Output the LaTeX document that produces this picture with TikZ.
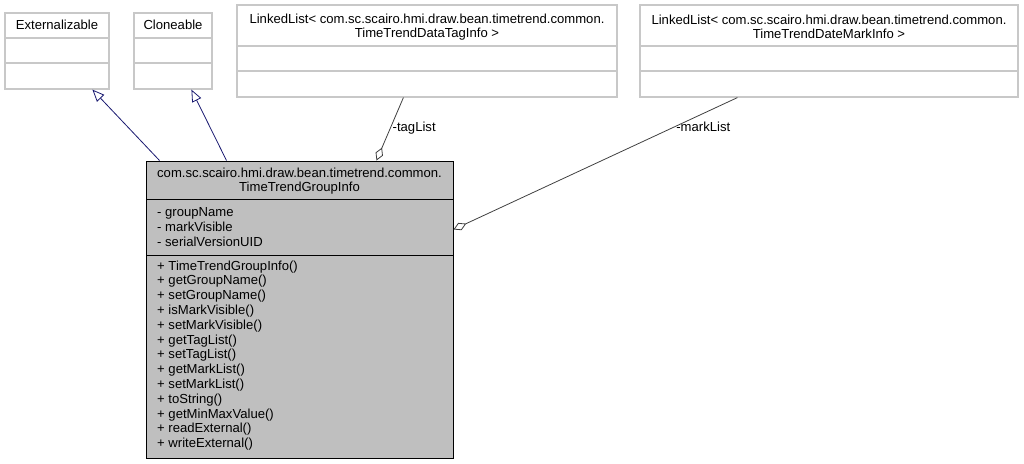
\documentclass[tikz,border=0pt]{standalone}
\usepackage{fontspec}
\setmainfont{Liberation Sans}
\usetikzlibrary{arrows.meta}
\definecolor{navyline}{HTML}{191970}
\definecolor{boxgrey}{HTML}{BFBFBF}
\definecolor{boxline}{HTML}{C8C8C8}
\definecolor{assoc}{HTML}{404040}
\begin{document}
\begin{tikzpicture}[x=1pt,y=-1pt,
  umlfont/.style={font=\fontsize{13.1}{14.4}\selectfont},
  listfont/.style={font=\fontsize{13.1}{14.8}\selectfont},
  plainbox/.style={draw=boxline,line width=1.2pt,fill=white,rectangle,inner sep=0pt},
  mainbox/.style={draw=black,line width=1pt,fill=boxgrey,rectangle,inner sep=0pt},
  txt/.style={umlfont,inner sep=0pt,align=center},
  ltxt/.style={listfont,inner sep=0pt,align=left,anchor=north west},
  inherit/.style={draw=navyline,line width=0.8pt,-{Triangle[open,length=12pt,width=10pt]}},
  aggr/.style={draw=assoc,line width=0.8pt,{Diamond[open,length=14pt,width=8pt]}-}
]
\useasboundingbox (0,0) rectangle (1024,463);

% Externalizable
\node[plainbox,minimum width=104pt,minimum height=76pt] (ext) at (57,51) {};
\draw[boxline,line width=1.2pt] (5,38) -- (109,38) (5,63) -- (109,63);
\node[txt] (extt) at (57,25) {Externalizable};

% Cloneable
\node[plainbox,minimum width=78pt,minimum height=76pt] (clo) at (173,51) {};
\draw[boxline,line width=1.2pt] (134,38) -- (212,38) (134,63) -- (212,63);
\node[txt] (clot) at (173,25) {Cloneable};

% LinkedList tag
\node[plainbox,minimum width=380pt,minimum height=92pt] (tag) at (427,51) {};
\draw[boxline,line width=1.2pt] (237,46) -- (617,46) (237,71) -- (617,71);
\node[txt] (tagt) at (427,27) {LinkedList< com.sc.scairo.hmi.draw.bean.timetrend.common.\\TimeTrendDataTagInfo >};

% LinkedList mark
\node[plainbox,minimum width=378pt,minimum height=92pt] (mark) at (829,51) {};
\draw[boxline,line width=1.2pt] (640,46) -- (1018,46) (640,71) -- (1018,71);
\node[txt] (markt) at (829,27) {LinkedList< com.sc.scairo.hmi.draw.bean.timetrend.common.\\TimeTrendDateMarkInfo >};

% Main class
\node[mainbox,minimum width=307pt,minimum height=297pt] (main) at (299.5,309.5) {};
\draw[black,line width=1pt] (146,199) -- (453,199) (146,255) -- (453,255);
\node[txt] (maint) at (299.5,181) {com.sc.scairo.hmi.draw.bean.timetrend.common.\\TimeTrendGroupInfo};
\node[ltxt] (attrs) at (157,207.5) {- groupName\\- markVisible\\- serialVersionUID};
\node[ltxt] (meths) at (157,260.5) {+ TimeTrendGroupInfo()\\+ getGroupName()\\+ setGroupName()\\+ isMarkVisible()\\+ setMarkVisible()\\+ getTagList()\\+ setTagList()\\+ getMarkList()\\+ setMarkList()\\+ toString()\\+ getMinMaxValue()\\+ readExternal()\\+ writeExternal()};

% connectors
\path (main.north west) ++(14,0) coordinate (m1);
\path (main.north west) ++(81,0) coordinate (m2);
\path (main.north west) ++(231,0) coordinate (m3);
\path (main.north east) ++(0,69) coordinate (m4);
\path (ext.south west) ++(88,0) coordinate (e1);
\path (clo.south west) ++(58,0) coordinate (c1);
\path (tag.south west) ++(167,0) coordinate (t1);
\path (mark.south west) ++(98,0) coordinate (k1);

\draw[inherit] (m1) -- (e1);
\draw[inherit] (m2) -- (c1);
\draw[aggr] (m3) -- (t1) node[pos=0.55,anchor=west,umlfont,inner sep=1pt,yshift=-2pt] (tl) {-tagList};
\draw[aggr] (m4) -- (k1) node[pos=0.78,anchor=west,umlfont,inner sep=1pt,yshift=0pt] (ml) {-markList};
\end{tikzpicture}
\end{document}
